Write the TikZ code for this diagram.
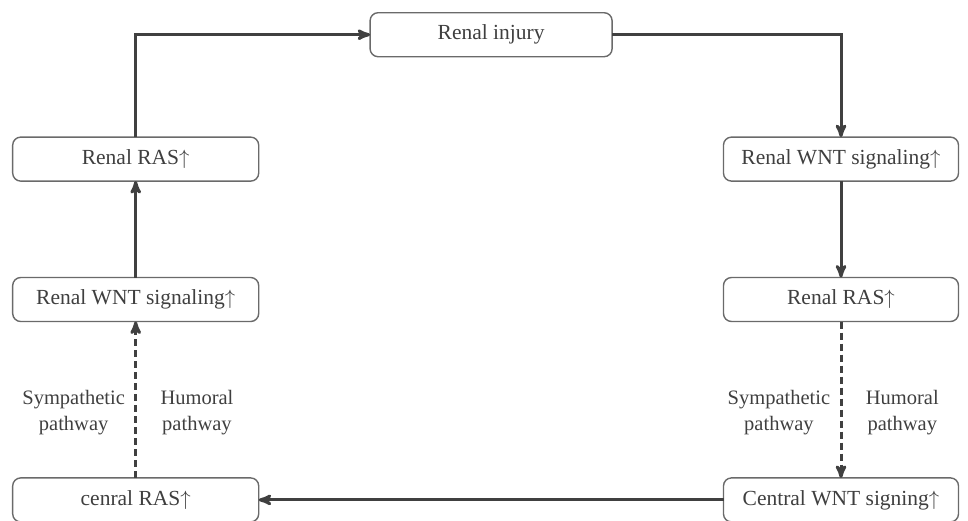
\documentclass[tikz,border=0pt]{standalone}
\usepackage{fontspec}
\setmainfont{Liberation Serif}
\usepackage{tikz}
\usetikzlibrary{positioning, arrows}

\definecolor{linegray}{HTML}{404040}
\definecolor{boxgray}{HTML}{6A6A6A}
\definecolor{textgray}{HTML}{3F3F3F}

\newcommand{\rises}{$\uparrow$}

\begin{document}
\begin{tikzpicture}[x=1pt,y=1pt,->,>=stealth',auto,line width=3pt, ampersand replacement=\&,
  stage/.style={draw=boxgray, line width=1.4pt, fill=white, rounded corners=8pt, minimum height=44pt, text=textgray, align=center, font=\fontsize{21.5}{26}\selectfont},
  route/.style={draw=linegray},
  pathlabel/.style={text=textgray, align=center, font=\fontsize{20.5}{26}\selectfont}]
  \useasboundingbox (0,0) rectangle (968,-520);
  \matrix[anchor=north west, inner sep=0pt, outer sep=0pt, column sep=110pt, row sep=79pt] at (12,-12) {
   \& \node[stage, minimum width=242pt] (injury) {Renal injury}; \& \\
   \node[stage, minimum width=246pt] (lras) {Renal RAS\rises};
   \& \&
   \node[stage, minimum width=235pt] (rwnt) {Renal WNT signaling\rises}; \\[16pt]
   \node[stage, minimum width=246pt] (lwnt) {Renal WNT signaling\rises};
   \& \&
   \node[stage, minimum width=235pt] (rras) {Renal RAS\rises}; \\[76pt]
   \node[stage, minimum width=246pt] (cras) {cenral RAS\rises};
   \& \&
   \node[stage, minimum width=235pt] (cwnt) {Central WNT signing\rises}; \\
  };

  \draw[route] (lras.north) |- (injury.west);
  \draw[route] (injury.east) -| (rwnt.north);
  \path[route]
    (rwnt) edge (rras)
    (rras) edge[dashed, dash pattern=on 7pt off 4pt]
      node[pathlabel, pos=0.58, left=6pt] {Sympathetic\\pathway}
      node[pathlabel, pos=0.58, right=20pt] {Humoral\\pathway} (cwnt)
    (cwnt) edge (cras)
    (cras) edge[dashed, dash pattern=on 7pt off 4pt]
      node[pathlabel, pos=0.42, left=6pt] {Sympathetic\\pathway}
      node[pathlabel, pos=0.42, right=20pt] {Humoral\\pathway} (lwnt)
    (lwnt) edge (lras);
\end{tikzpicture}
\end{document}
